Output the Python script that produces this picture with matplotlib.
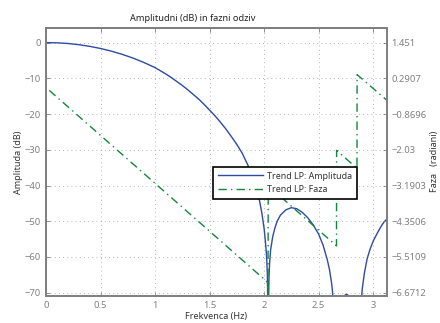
import matplotlib
matplotlib.use("Agg")
import matplotlib.pyplot as plt
import numpy as np

plt.rcParams['font.family'] = ['Noto Sans', 'DejaVu Sans']

# amplituda (dB), odcitano s slike
freq_amp = [0, 0.1, 0.2, 0.3, 0.4, 0.5, 0.6, 0.7, 0.8, 0.9, 1.0, 1.05, 1.1, 1.15, 1.2,
            1.25, 1.3, 1.35, 1.4, 1.45, 1.5, 1.55, 1.6, 1.65, 1.7, 1.75, 1.8, 1.85,
            1.9, 1.93, 1.96, 1.98, 2.0, 2.01, 2.02, 2.025, 2.03, 2.035, 2.037,
            2.04, 2.045, 2.05, 2.06, 2.08, 2.1, 2.12, 2.15, 2.2, 2.25, 2.3, 2.35,
            2.4, 2.45, 2.5, 2.54, 2.58, 2.6, 2.62, 2.63, 2.64, 2.65,
            2.72, 2.73, 2.745, 2.756, 2.767, 2.78, 2.79,
            2.87, 2.885, 2.893, 2.9, 2.92, 2.945, 2.97, 3.0, 3.03, 3.055, 3.08,
            3.106, 3.125]
amp_db = [0, -0.06, -0.25, -0.58, -1.05, -1.65, -2.4, -3.3, -4.35, -5.6, -7.0, -7.9,
          -8.8, -9.8, -10.9, -12.0, -13.2, -14.5, -15.8, -17.3, -18.9, -20.5, -22.3,
          -24.2, -26.3, -28.5, -31.0, -34.2, -38.0, -40.8, -44.5, -47.8, -52.0, -55.0,
          -58.5, -61.0, -65.0, -75.0, -90.0,
          -75.0, -66.0, -62.0, -58.0, -54.2, -51.8, -50.0, -48.3, -46.8, -46.2, -46.5,
          -47.5, -49.0, -51.0, -53.6, -56.6, -60.8, -63.6, -67.5, -70.5, -76.0, -90.0,
          -76.0, -71.2, -70.6, -70.45, -70.6, -71.2, -76.0,
          -90.0, -76.0, -72.0, -69.0, -64.5, -60.5, -58.0, -55.6, -53.8, -52.4, -51.1,
          -50.0, -49.4]

# faza (radiani)
freq_faza = [0.03, 2.035, 2.036, 2.038, 2.664, 2.665, 2.852, 2.853, 3.125]
faza = [-0.10, -6.34, -6.8, -3.2, -5.15, -2.05, -2.63, 0.41, -0.42]

left_ticks = [0, -10, -20, -30, -40, -50, -60, -70]
right_ticks = [1.451, 0.2907, -0.8696, -2.03, -3.1903, -4.3506, -5.5109, -6.6712]
right_labels = ['1.451', '0.2907', '\u22120.8696', '\u22122.03', '\u22123.1903',
                '\u22124.3506', '\u22125.5109', '\u22126.6712']

ylim_db = (-70.84, 4.1)
scale = 0.11603
ylim_faza = (1.451 + scale * ylim_db[0], 1.451 + scale * ylim_db[1])

blue = '#2d4aa6'
green = '#12873a'
grey = '#808080'

fig = plt.figure(figsize=(4.4, 3.23), dpi=100)
ax = fig.add_axes([0.1045, 0.0845, 0.7745, 0.829])
l1, = ax.plot(freq_amp, amp_db, color=blue, lw=1.0, label='Trend LP: Amplituda')
ax.set_xlim(0, 3.125)
ax.set_ylim(*ylim_db)
ax.set_yticks(left_ticks)
ax.set_xticks([0, 0.5, 1, 1.5, 2, 2.5, 3])
ax.set_xticklabels(['0', '0.5', '1', '1.5', '2', '2.5', '3'])
ax.grid(True, ls=(0, (1, 4)), color='#a0a0a0', lw=0.6)
ax.tick_params(direction='in', length=3, labelsize=6.8, colors=grey, top=True, width=0.6)
for s in ax.spines.values():
    s.set_color(grey)
    s.set_linewidth(1.3)
ax.set_xlabel('Frekvenca (Hz)', fontsize=6.5, color='#333333', labelpad=2)
ax.set_ylabel('Amplituda (dB)', fontsize=6.5, color='#333333', labelpad=1)
ax.set_title('Amplitudni (dB) in fazni odziv', fontsize=6.6, color='#222222', pad=5, x=0.43)

ax2 = ax.twinx()
l2, = ax2.plot(freq_faza, faza, color=green, lw=1.0, ls=(0, (6, 3, 1, 3)),
               label='Trend LP: Faza')
ax2.set_ylim(*ylim_faza)
ax2.set_yticks(right_ticks)
ax2.set_yticklabels(right_labels)
ax2.tick_params(direction='in', length=3, labelsize=6.8, colors=grey, width=0.6)
for s in ax2.spines.values():
    s.set_color(grey)
    s.set_linewidth(1.3)
ax2.set_ylabel('Faza   (radiani)', fontsize=6.5, color='#333333', labelpad=2)

leg = ax2.legend(handles=[l1, l2], loc='upper left', bbox_to_anchor=(0.491, 0.482),
                 borderaxespad=0, fontsize=6.4, fancybox=False, framealpha=1,
                 edgecolor='black', handlelength=5.0, borderpad=0.55, labelspacing=0.55,
                 handletextpad=0.5)
leg.get_frame().set_linewidth(1.2)
for t in leg.get_texts():
    t.set_color('#333333')

fig.savefig('out.png', dpi=100)
